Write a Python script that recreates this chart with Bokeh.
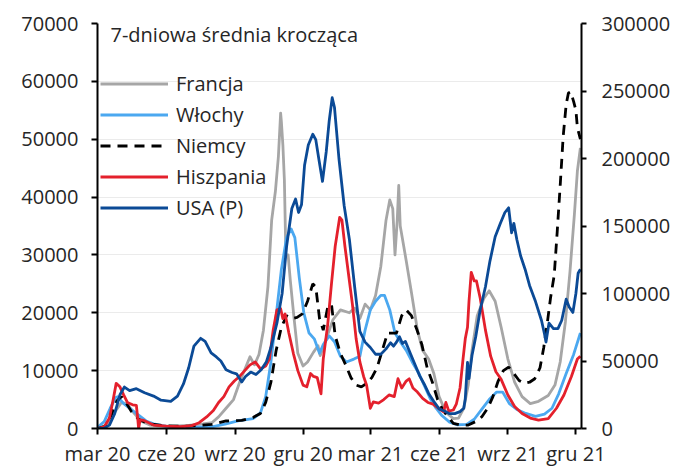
import pandas as pd
from bokeh.plotting import figure
from bokeh.models import (Range1d, LinearAxis, FixedTicker, NumeralTickFormatter,
                          Legend, LegendItem, Label)
from bokeh.embed import file_html
from bokeh.resources import INLINE

FONT = "Open Sans"
START = pd.Timestamp("2020-03-01")

# ---------------- data (7-day moving averages) ----------------
tick_dates = ["2020-03-01", "2020-06-01", "2020-09-01", "2020-12-01",
              "2021-03-01", "2021-06-01", "2021-09-01", "2021-12-01"]
tick_labels = ["mar 20", "cze 20", "wrz 20", "gru 20", "mar 21", "cze 21", "wrz 21", "gru 21"]
left_ticks = [0, 10000, 20000, 30000, 40000, 50000, 60000, 70000]
right_ticks = [0, 50000, 100000, 150000, 200000, 250000, 300000]

fr_dates = ["2020-03-01", "2020-03-15", "2020-03-25", "2020-04-02", "2020-04-10", "2020-04-18",
            "2020-04-28", "2020-05-10", "2020-05-25", "2020-06-10", "2020-07-01", "2020-07-20",
            "2020-08-01", "2020-08-10", "2020-08-20", "2020-08-30", "2020-09-08", "2020-09-15",
            "2020-09-21", "2020-09-27", "2020-10-03", "2020-10-09", "2020-10-15", "2020-10-20",
            "2020-10-25", "2020-10-29", "2020-11-01", "2020-11-02", "2020-11-04", "2020-11-06",
            "2020-11-08", "2020-11-11", "2020-11-14", "2020-11-19", "2020-11-24", "2020-12-01",
            "2020-12-07", "2020-12-15", "2020-12-21", "2020-12-24", "2021-01-01", "2021-01-10",
            "2021-01-20", "2021-02-01", "2021-02-08", "2021-02-15", "2021-02-22", "2021-03-01",
            "2021-03-08", "2021-03-15", "2021-03-22", "2021-03-27", "2021-03-31", "2021-04-03",
            "2021-04-06", "2021-04-08", "2021-04-10", "2021-04-14", "2021-04-18", "2021-04-25",
            "2021-05-03", "2021-05-10", "2021-05-18", "2021-05-25", "2021-06-01", "2021-06-10",
            "2021-06-20", "2021-06-27", "2021-07-04", "2021-07-10", "2021-07-15", "2021-07-22",
            "2021-07-31", "2021-08-07", "2021-08-15", "2021-08-23", "2021-09-01", "2021-09-10",
            "2021-09-20", "2021-10-01", "2021-10-12", "2021-10-25", "2021-11-03", "2021-11-10",
            "2021-11-17", "2021-11-23", "2021-11-29", "2021-12-03", "2021-12-07"]
fr_vals = [0, 700, 3000, 4500, 4200, 2800,
           1300, 600, 400, 400, 550, 800,
           1000, 2000, 3500, 5000, 8300, 10500,
           12400, 11000, 12800, 17000, 24500, 36000,
           41000, 47000, 54500, 53000, 49000, 43000,
           30000, 30000, 25500, 19000, 13000, 10800,
           11500, 13200, 14300, 12600, 15500, 18800,
           20500, 20000, 20800, 19000, 21500, 20500,
           23000, 28000, 36000, 39500, 38000, 30000,
           36000, 42000, 35000, 32000, 29000, 23500,
           17000, 13500, 12000, 9500, 5500, 2800,
           1700, 1800, 3500, 7500, 13500, 19500,
           22500, 23800, 22000, 17500, 12000, 8000,
           5500, 4300, 4700, 5700, 7500, 11500,
           18500, 27000, 37000, 44500, 48500]

it_dates = ["2020-03-01", "2020-03-10", "2020-03-18", "2020-03-25", "2020-03-28", "2020-04-05",
            "2020-04-15", "2020-04-25", "2020-05-05", "2020-05-15", "2020-06-01", "2020-07-01",
            "2020-08-01", "2020-08-20", "2020-09-05", "2020-09-25", "2020-10-05", "2020-10-12",
            "2020-10-19", "2020-10-26", "2020-11-02", "2020-11-09", "2020-11-15", "2020-11-20",
            "2020-11-26", "2020-12-02", "2020-12-09", "2020-12-16", "2020-12-23", "2020-12-28",
            "2021-01-05", "2021-01-12", "2021-01-20", "2021-01-28", "2021-02-07", "2021-02-15",
            "2021-02-22", "2021-03-01", "2021-03-08", "2021-03-15", "2021-03-20", "2021-03-27",
            "2021-04-03", "2021-04-10", "2021-04-18", "2021-04-26", "2021-05-05", "2021-05-12",
            "2021-05-20", "2021-05-28", "2021-06-05", "2021-06-15", "2021-06-25", "2021-07-08",
            "2021-07-18", "2021-07-28", "2021-08-07", "2021-08-17", "2021-08-25", "2021-09-03",
            "2021-09-13", "2021-09-25", "2021-10-08", "2021-10-20", "2021-10-30", "2021-11-08",
            "2021-11-18", "2021-11-28", "2021-12-07"]
it_vals = [200, 1200, 3500, 5300, 5500, 4300,
           3300, 2300, 1300, 800, 350, 200,
           300, 800, 1300, 1700, 2700, 5500,
           11500, 19500, 27500, 33000, 34500, 33000,
           26000, 20000, 16500, 15500, 13000, 14500,
           16000, 15000, 12500, 11500, 12000, 12500,
           17000, 20500, 22000, 23000, 23000, 20500,
           16500, 15000, 13500, 11500, 9500, 7500,
           5200, 3500, 2200, 1100, 650, 700,
           1600, 3300, 5000, 6300, 6300, 4300,
           3300, 2600, 2100, 2500, 3500, 6000,
           9500, 12800, 16500]

de_dates = ["2020-03-01", "2020-03-12", "2020-03-20", "2020-03-27", "2020-04-02", "2020-04-08",
            "2020-04-15", "2020-04-25", "2020-05-08", "2020-06-01", "2020-07-01", "2020-08-01",
            "2020-08-20", "2020-09-10", "2020-09-25", "2020-10-05", "2020-10-12", "2020-10-19",
            "2020-10-26", "2020-11-02", "2020-11-09", "2020-11-16", "2020-11-23", "2020-11-30",
            "2020-12-07", "2020-12-14", "2020-12-18", "2020-12-23", "2020-12-28", "2021-01-03",
            "2021-01-08", "2021-01-13", "2021-01-20", "2021-01-27", "2021-02-03", "2021-02-10",
            "2021-02-17", "2021-02-24", "2021-03-03", "2021-03-10", "2021-03-17", "2021-03-24",
            "2021-03-31", "2021-04-05", "2021-04-12", "2021-04-18", "2021-04-25", "2021-05-02",
            "2021-05-09", "2021-05-16", "2021-05-23", "2021-05-30", "2021-06-06", "2021-06-13",
            "2021-06-20", "2021-07-01", "2021-07-10", "2021-07-20", "2021-07-28", "2021-08-05",
            "2021-08-12", "2021-08-19", "2021-08-26", "2021-09-02", "2021-09-09", "2021-09-16",
            "2021-09-23", "2021-09-30", "2021-10-07", "2021-10-14", "2021-10-19", "2021-10-24",
            "2021-10-28", "2021-11-02", "2021-11-06", "2021-11-10", "2021-11-14", "2021-11-18",
            "2021-11-21", "2021-11-24", "2021-11-28", "2021-12-01", "2021-12-03", "2021-12-05",
            "2021-12-07"]
de_vals = [0, 400, 2500, 4800, 5500, 4500,
           3000, 1600, 800, 450, 400, 700,
           1300, 1400, 1900, 2600, 4500, 8000,
           13500, 17500, 19500, 19000, 19200, 19800,
           22000, 25000, 24500, 19000, 17000, 21000,
           21500, 16000, 13000, 11000, 8800, 7500,
           7200, 7800, 8800, 10500, 13500, 16500,
           16500, 16500, 19500, 20500, 19500, 17200,
           14500, 10500, 8000, 5000, 3200, 2000,
           900, 550, 600, 1200, 2000, 3500,
           5500, 8200, 10000, 10600, 9500, 8300,
           7800, 8000, 8600, 10500, 14000, 18500,
           22500, 26500, 34000, 42000, 50500, 56000,
           58000, 58200, 56500, 55000, 52000, 51000,
           50000]

es_dates = ["2020-03-01", "2020-03-10", "2020-03-17", "2020-03-22", "2020-03-26", "2020-03-31",
            "2020-04-05", "2020-04-10", "2020-04-17", "2020-04-22", "2020-04-24", "2020-04-25",
            "2020-04-27", "2020-05-02", "2020-05-15", "2020-06-01", "2020-06-20", "2020-07-05",
            "2020-07-15", "2020-07-25", "2020-08-03", "2020-08-10", "2020-08-17", "2020-08-24",
            "2020-08-31", "2020-09-07", "2020-09-14", "2020-09-21", "2020-09-28", "2020-10-05",
            "2020-10-12", "2020-10-17", "2020-10-22", "2020-10-27", "2020-11-01", "2020-11-04",
            "2020-11-07", "2020-11-12", "2020-11-18", "2020-11-24", "2020-12-01", "2020-12-06",
            "2020-12-11", "2020-12-15", "2020-12-20", "2020-12-25", "2020-12-28", "2021-01-03",
            "2021-01-08", "2021-01-13", "2021-01-19", "2021-01-22", "2021-01-26", "2021-02-01",
            "2021-02-05", "2021-02-10", "2021-02-15", "2021-02-20", "2021-02-24", "2021-03-01",
            "2021-03-05", "2021-03-12", "2021-03-19", "2021-03-26", "2021-04-02", "2021-04-07",
            "2021-04-12", "2021-04-18", "2021-04-22", "2021-04-27", "2021-05-03", "2021-05-10",
            "2021-05-17", "2021-05-24", "2021-05-31", "2021-06-07", "2021-06-10", "2021-06-14",
            "2021-06-20", "2021-06-24", "2021-06-29", "2021-07-03", "2021-07-06", "2021-07-09",
            "2021-07-11", "2021-07-14", "2021-07-18", "2021-07-21", "2021-07-26", "2021-08-02",
            "2021-08-09", "2021-08-16", "2021-08-23", "2021-09-01", "2021-09-10", "2021-09-20",
            "2021-10-01", "2021-10-12", "2021-10-25", "2021-11-05", "2021-11-15", "2021-11-25",
            "2021-12-03", "2021-12-07"]
es_vals = [0, 300, 1800, 5000, 7800, 7200,
           5800, 4500, 4100, 4000, 1500, 0,
           1500, 1400, 600, 400, 300, 500,
           1000, 2000, 3100, 4500, 5500, 7200,
           8200, 9000, 10000, 11000, 11500, 10300,
           10800, 12000, 17000, 20500, 20700, 19000,
           19800, 16500, 13000, 10000, 7500, 7200,
           9500, 9000, 8800, 6000, 12000, 18000,
           25000, 31500, 36500, 36000, 31500, 25500,
           21500, 15500, 11500, 9000, 7500, 3500,
           4600, 4400, 5000, 5800, 5500, 8600,
           7000, 8200, 8600, 7000, 6300, 5200,
           4500, 4200, 3500, 2900, 4500, 3000,
           3200, 4200, 7000, 12000, 15500, 17500,
           22000, 27000, 25500, 25500, 22500, 17000,
           12500, 9800, 8500, 5800, 3800, 2600,
           1800, 1450, 1700, 3500, 5800, 9000,
           12000, 12500]

us_dates = ["2020-03-01", "2020-03-10", "2020-03-17", "2020-03-24", "2020-03-31", "2020-04-06",
            "2020-04-13", "2020-04-22", "2020-05-03", "2020-05-15", "2020-05-25", "2020-06-07",
            "2020-06-16", "2020-06-24", "2020-07-01", "2020-07-08", "2020-07-17", "2020-07-23",
            "2020-07-31", "2020-08-07", "2020-08-13", "2020-08-20", "2020-08-28", "2020-09-03",
            "2020-09-10", "2020-09-15", "2020-09-22", "2020-09-29", "2020-10-06", "2020-10-13",
            "2020-10-19", "2020-10-27", "2020-11-03", "2020-11-09", "2020-11-16", "2020-11-21",
            "2020-11-25", "2020-11-29", "2020-12-03", "2020-12-08", "2020-12-14", "2020-12-18",
            "2020-12-22", "2020-12-27", "2021-01-01", "2021-01-05", "2021-01-09", "2021-01-12",
            "2021-01-18", "2021-01-25", "2021-02-01", "2021-02-08", "2021-02-15", "2021-02-22",
            "2021-03-01", "2021-03-08", "2021-03-15", "2021-03-22", "2021-03-28", "2021-04-01",
            "2021-04-05", "2021-04-09", "2021-04-13", "2021-04-17", "2021-04-24", "2021-04-30",
            "2021-05-06", "2021-05-12", "2021-05-18", "2021-05-25", "2021-06-01", "2021-06-08",
            "2021-06-15", "2021-06-22", "2021-06-29", "2021-07-04", "2021-07-06", "2021-07-09",
            "2021-07-11", "2021-07-15", "2021-07-20", "2021-07-26", "2021-08-02", "2021-08-08",
            "2021-08-15", "2021-08-22", "2021-08-28", "2021-09-02", "2021-09-06", "2021-09-09",
            "2021-09-13", "2021-09-18", "2021-09-24", "2021-09-30", "2021-10-08", "2021-10-16",
            "2021-10-20", "2021-10-22", "2021-10-26", "2021-11-01", "2021-11-07", "2021-11-12",
            "2021-11-18", "2021-11-22", "2021-11-27", "2021-12-01", "2021-12-04", "2021-12-07"]
us_vals = [0, 300, 2500, 11000, 25000, 30700,
           28000, 29500, 26500, 24000, 21000, 20100,
           24000, 33000, 45000, 61000, 66800, 64500,
           56000, 53000, 50000, 43500, 41500, 40500,
           34500, 38500, 41800, 40000, 43500, 49500,
           60000, 78000, 100000, 135000, 163000, 170000,
           160000, 166000, 195000, 210000, 218000, 214000,
           200000, 183000, 205000, 228000, 245000, 238000,
           200000, 165000, 140000, 105000, 72000, 64000,
           60000, 55000, 55000, 59000, 63500, 61000,
           64000, 68000, 63000, 64500, 55000, 47000,
           39000, 33000, 26000, 20000, 14500, 13000,
           11000, 11000, 12500, 15000, 22000, 49000,
           37000, 54000, 68000, 88000, 105000, 124000,
           142000, 152000, 160000, 163500, 145000, 152000,
           140000, 128000, 118000, 106000, 94000, 80000,
           70000, 64000, 78000, 74000, 74000, 80000,
           95800, 90000, 86000, 100000, 115000, 118000]


def days(ds):
    return [(pd.Timestamp(d) - START).days for d in ds]


tick_days = days(tick_dates)

# ---------------- figure ----------------
p = figure(width=673, height=469, output_backend="svg", toolbar_location=None,
           x_range=Range1d(0, 647.5), y_range=Range1d(0, 70000),
           min_border_left=97, min_border_right=91, min_border_top=23, min_border_bottom=39)
p.outline_line_color = None
p.background_fill_color = "white"
p.border_fill_color = "white"
p.extra_y_ranges = {"usa": Range1d(0, 300000)}

p.xgrid.visible = False
p.ygrid.ticker = FixedTicker(ticks=left_ticks)
p.ygrid.grid_line_color = "#ebebeb"
p.ygrid.grid_line_width = 1

TXT = "#262626"

# left axis
ya = p.yaxis[0]
ya.ticker = FixedTicker(ticks=left_ticks)
ya.formatter = NumeralTickFormatter(format="0")
ya.axis_line_width = 2
ya.axis_line_color = "black"
ya.major_tick_line_width = 2
ya.major_tick_line_color = "black"
ya.major_tick_out = 6
ya.major_tick_in = 0
ya.minor_tick_out = 0
ya.minor_tick_in = 0
ya.major_label_standoff = 13
ya.major_label_text_font = FONT
ya.major_label_text_font_size = "20px"
ya.major_label_text_color = TXT

# right axis (USA)
ra = LinearAxis(y_range_name="usa", ticker=FixedTicker(ticks=right_ticks),
                formatter=NumeralTickFormatter(format="0"))
ra.axis_line_width = 2
ra.axis_line_color = "black"
ra.major_tick_line_width = 2
ra.major_tick_line_color = "black"
ra.major_tick_out = 5
ra.major_tick_in = 0
ra.minor_tick_out = 0
ra.minor_tick_in = 0
ra.major_label_standoff = 15
ra.major_label_text_font = FONT
ra.major_label_text_font_size = "20px"
ra.major_label_text_color = TXT
p.add_layout(ra, "right")

# bottom axis
xa = p.xaxis[0]
xa.ticker = FixedTicker(ticks=tick_days)
xa.major_label_overrides = {d: lab for d, lab in zip(tick_days, tick_labels)}
xa.axis_line_width = 2
xa.axis_line_color = "black"
xa.major_tick_line_width = 2
xa.major_tick_line_color = "black"
xa.major_tick_out = 6
xa.major_tick_in = 0
xa.minor_tick_out = 0
xa.minor_tick_in = 0
xa.major_label_standoff = 5
xa.major_label_text_font = FONT
xa.major_label_text_font_size = "20px"
xa.major_label_text_color = TXT

# ---------------- series ----------------
LW = 2.8
r_fr = p.line(days(fr_dates), fr_vals, line_color="#a6a6a6", line_width=LW, line_join="round")
r_it = p.line(days(it_dates), it_vals, line_color="#4ba8f0", line_width=LW, line_join="round")
r_de = p.line(days(de_dates), de_vals, line_color="black", line_width=LW, line_dash="10 7")
r_es = p.line(days(es_dates), es_vals, line_color="#e4202c", line_width=LW, line_join="round")
r_us = p.line(days(us_dates), us_vals, line_color="#0b4a96", line_width=LW, line_join="round",
              y_range_name="usa")

legend = Legend(items=[LegendItem(label="Francja", renderers=[r_fr]),
                       LegendItem(label="Włochy", renderers=[r_it]),
                       LegendItem(label="Niemcy", renderers=[r_de]),
                       LegendItem(label="Hiszpania", renderers=[r_es]),
                       LegendItem(label="USA (P)", renderers=[r_us])],
                location=(3, 207), orientation="vertical",
                glyph_width=68, glyph_height=27, label_height=27, label_standoff=8,
                spacing=4, padding=0, margin=0,
                border_line_color=None, background_fill_alpha=0,
                label_text_font=FONT, label_text_font_size="20px", label_text_color=TXT)
p.add_layout(legend, "center")

p.add_layout(Label(x=13, y=394, x_units="screen", y_units="screen",
                   text="7-dniowa średnia  krocząca", text_font=FONT,
                   text_font_size="20px", text_color=TXT, text_baseline="alphabetic"))

open("out.html", "w").write(file_html(p, INLINE))
